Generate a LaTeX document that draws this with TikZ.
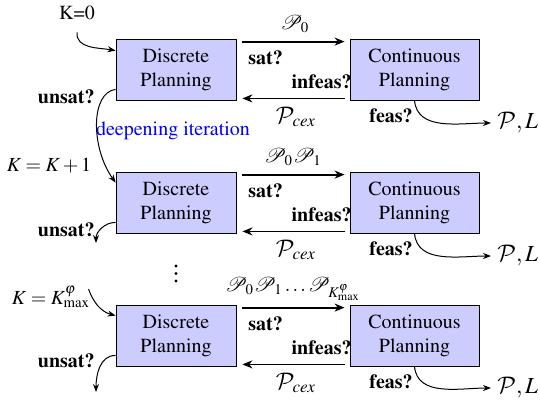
\documentclass[tikz,border=0pt]{standalone}
\usepackage{mathptmx}
\usepackage[T1]{fontenc}
\usepackage{mathrsfs}
\DeclareMathAlphabet{\mathcal}{OMS}{cmsy}{m}{n}
\usetikzlibrary{arrows.meta}
\definecolor{boxfill}{RGB}{204,204,255}
\tikzset{
  x=0.5pt, y=-0.5pt,
  pbox/.style={draw=black, fill=boxfill, align=center, inner sep=0pt, minimum height=30.5pt, font=\fontsize{10}{12}\selectfont},
  dbox/.style={pbox, minimum width=60pt},
  cbox/.style={pbox, minimum width=64.5pt},
  bigarr/.style={line width=0.9pt, -{Stealth[length=5pt,width=4pt]}},
  thinarr/.style={line width=0.5pt, -{Stealth[length=4pt,width=3pt]}},
  lbl/.style={inner sep=0pt, font=\fontsize{10}{12}\selectfont},
  mlbl/.style={inner sep=0pt, font=\fontsize{11.5}{14}\selectfont},
  blbl/.style={lbl, font=\fontsize{10}{12}\selectfont\bfseries},
  dot/.style={circle, fill=black, inner sep=0pt, minimum size=1.6pt},
}
\begin{document}
\begin{tikzpicture}
\useasboundingbox (0,0) rectangle (540,403);
% row 1
\node[dbox] (D1) at (176,69.5) {Discrete\\Planning};
\node[cbox] (C1) at (414.5,69.5) {Continuous\\Planning};
\node[lbl] (K0) at (77,13) {K=0};
\node[lbl] (P1) at (295,24) {$\mathscr{P}_0$};
\node[blbl, anchor=west] (s1) at (248,58) {sat?};
\node[blbl, anchor=east] (i1) at (352,82) {infeas?};
\node[mlbl] (x1) at (296,117) {$\mathcal{P}_{cex}$};
\node[blbl] (f1) at (391,116) {feas?};
\node[mlbl, anchor=west] (L1) at (497,123) {$\mathcal{P}, L$};
\node[blbl, anchor=east] (u1) at (95,97) {unsat?};
\node[lbl, text=blue] (deep) at (173,131) {deepening iteration};
% row 2
\node[dbox] (D2) at (176,202.5) {Discrete\\Planning};
\node[cbox] (C2) at (414.5,202.5) {Continuous\\Planning};
\node[lbl] (K1) at (49,166) {$K=K+1$};
\node[lbl] (P2) at (293,157) {$\mathscr{P}_0\mathscr{P}_1$};
\node[blbl, anchor=west] (s2) at (248,191) {sat?};
\node[blbl, anchor=east] (i2) at (352,215) {infeas?};
\node[mlbl] (x2) at (296,250) {$\mathcal{P}_{cex}$};
\node[blbl] (f2) at (391,249) {feas?};
\node[mlbl, anchor=west] (L2) at (497,256) {$\mathcal{P}, L$};
\node[blbl, anchor=east] (u2) at (95,230) {unsat?};
\coordinate (e2) at (96,243);
% dots
\node[dot] (d1) at (176,266) {};
\node[dot] (d2) at (176,273.5) {};
\node[dot] (d3) at (176,281) {};
% row 3
\node[dbox] (D3) at (176,335.5) {Discrete\\Planning};
\node[cbox] (C3) at (414.5,335.5) {Continuous\\Planning};
\node[lbl] (K2) at (51,297) {$K=K^{\varphi}_{\max}$};
\node[lbl] (P3) at (293,289) {$\mathscr{P}_0\mathscr{P}_1\ldots\mathscr{P}_{K^{\varphi}_{\max}}$};
\node[blbl, anchor=west] (s3) at (248,324) {sat?};
\node[blbl, anchor=east] (i3) at (352,348) {infeas?};
\node[mlbl] (x3) at (296,383) {$\mathcal{P}_{cex}$};
\node[blbl] (f3) at (391,382) {feas?};
\node[mlbl, anchor=west] (L3) at (497,388) {$\mathcal{P}, L$};
\node[blbl, anchor=east] (u3) at (95,361) {unsat?};
\coordinate (e3) at (96,392);
% arrows
\foreach \r in {1,2,3}{
  \draw[bigarr] ([xshift=3pt,yshift=-1.5pt]D\r.north east) -- ([xshift=-2.5pt,yshift=-1.5pt]C\r.north west);
  \draw[bigarr] ([xshift=-2.5pt,yshift=1pt]C\r.south west) -- ([xshift=3pt,yshift=1pt]D\r.south east);
  \draw[thinarr] (C\r.south) to[out=-85,in=180] ([xshift=-3pt]L\r.west);
}
\draw[thinarr] ([yshift=-6pt]K0.south) to[out=-95,in=170] ([yshift=-6pt]D1.north west);
\draw[thinarr] ([yshift=5.5pt]D1.south west) .. controls +(-25,3) and +(-25,-35) .. ([yshift=-5.5pt]D2.north west);
\draw[thinarr] ([yshift=5.5pt]D2.south west) to[out=180,in=90] (e2);
\draw[thinarr] ([xshift=-1pt,yshift=4pt]K2.east) to[out=-70,in=165] ([yshift=-5.5pt]D3.north west);
\draw[thinarr] ([yshift=5.5pt]D3.south west) to[out=180,in=90] (e3);
\end{tikzpicture}
\end{document}
